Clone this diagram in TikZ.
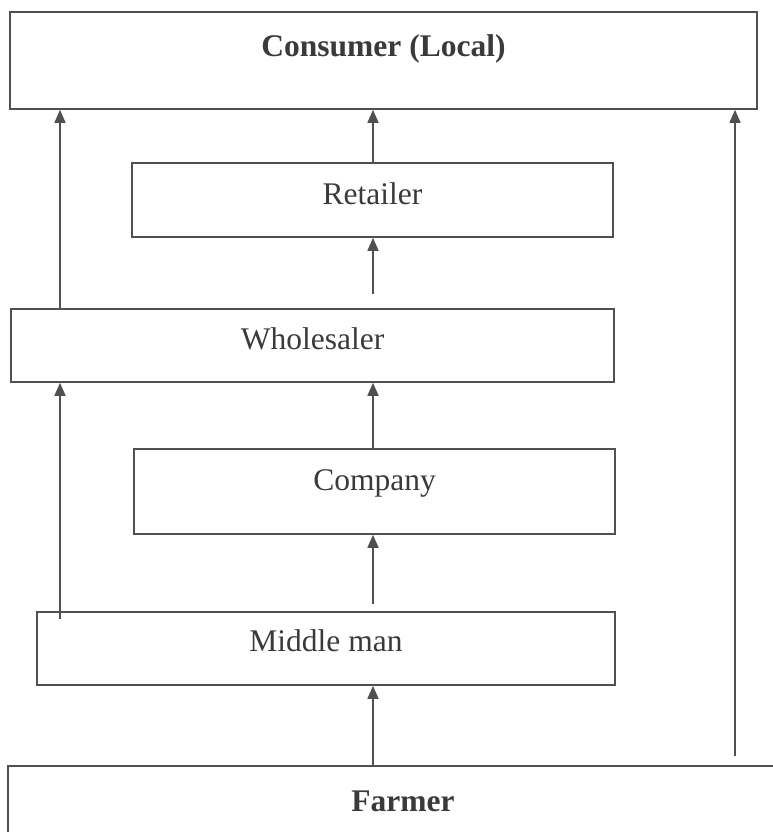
\documentclass[tikz,border=0pt]{standalone}
\usepackage{fontspec}
\setmainfont{Liberation Serif}
\usetikzlibrary{arrows.meta}
\definecolor{lin}{HTML}{505050}
\definecolor{txt}{HTML}{3A3A3A}
\tikzset{
  box/.style={draw=lin, line width=1.6pt, rectangle, inner sep=0pt, text=txt, font=\fontsize{31.5}{34}\selectfont},
  arr/.style={draw=lin, line width=1.6pt, -{Triangle[length=13pt,width=11pt]}},
}
\begin{document}
\begin{tikzpicture}[x=1pt,y=1pt]
\useasboundingbox (0,0) rectangle (773,-832);
\node[box, minimum width=747pt, minimum height=97pt, text depth=30pt, font=\fontsize{31.5}{34}\selectfont\bfseries] (consumer) at (383.5,-60.5) {Consumer (Local)};
\node[box, minimum width=481pt, minimum height=74pt, text depth=12pt] (retailer) at (372.5,-200) {Retailer};
\node[box, minimum width=603pt, minimum height=73pt, text depth=14pt] (wholesaler) at (312.5,-345.5) {Wholesaler};
\node[box, minimum width=481pt, minimum height=85pt, text depth=22pt] (company) at (374.5,-491.5) {Company};
\node[box, minimum width=578pt, minimum height=73pt, text depth=16pt] (middleman) at (326,-648.5) {Middle man};
\node[box, minimum width=790pt, minimum height=100pt, text depth=30pt, font=\fontsize{31.5}{34}\selectfont\bfseries] (farmer) at (403,-816) {Farmer};
\coordinate (xl) at (60,0);
\coordinate (xm) at (373,0);
\coordinate (rstart) at (735,-756);
% left arrows
\draw[arr] (wholesaler.north -| xl) -- (consumer.south -| xl);
\draw[arr] ([yshift=-8pt]middleman.north -| xl) -- (wholesaler.south -| xl);
% middle arrows
\draw[arr] (retailer.north -| xm) -- (consumer.south -| xm);
\draw[arr] ([yshift=14pt]wholesaler.north -| xm) -- (retailer.south -| xm);
\draw[arr] (company.north -| xm) -- (wholesaler.south -| xm);
\draw[arr] ([yshift=7pt]middleman.north -| xm) -- (company.south -| xm);
\draw[arr] (farmer.north -| xm) -- (middleman.south -| xm);
% right arrow
\draw[arr] (rstart) -- (consumer.south -| rstart);
\end{tikzpicture}
\end{document}
